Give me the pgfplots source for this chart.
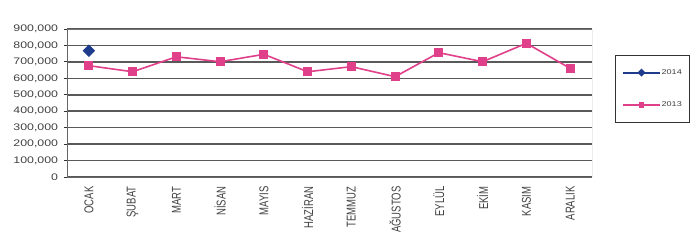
\documentclass[border=0pt]{standalone}
\usepackage{pgfplots}
\pgfplotsset{compat=1.18}
\usepackage{fontspec}
\setmainfont{Liberation Sans}
\definecolor{pinkc}{HTML}{E0408A}
\definecolor{navyc}{HTML}{1F3C8C}
\definecolor{txt}{HTML}{404040}
\begin{document}
\begin{tikzpicture}
\begin{axis}[
  scale only axis, width=525pt, height=148pt,
  at={(0,0)}, anchor=south west,
  xmin=-0.5, xmax=11.5, ymin=0, ymax=900000,
  ytick={0,100000,...,900000},
  scaled y ticks=false,
  /pgf/number format/fixed, /pgf/number format/1000 sep={,}, /pgf/number format/assume math mode=true,
  ticklabel style={font=\fontsize{9.5}{10}\selectfont, text=txt},
  yticklabel style={xscale=1.3, xshift=-1pt},
  ymajorgrids, grid style={draw=black!65, line width=1.5pt},
  xtick={0,...,11},
  xticklabels={OCAK,ŞUBAT,MART,NİSAN,MAYIS,HAZİRAN,TEMMUZ,AĞUSTOS,EYLÜL,EKİM,KASIM,ARALIK},
  xticklabel style={xscale=1.35, rotate=90, anchor=east, xshift=-3pt},
  xtick style={draw=none},
  extra x ticks={-0.5,0.5,1.5,2.5,3.5,4.5,5.5,6.5,7.5,8.5,9.5,10.5,11.5},
  extra x tick labels={},
  extra x tick style={tick style={draw=black!80, line width=0.8pt}, major tick length=4pt, tick align=outside, grid=none},
  ytick style={draw=black!80, line width=0.8pt}, major tick length=3pt, tick align=outside,
  axis line style={draw=black!60, line width=0.8pt},
  axis x line*=bottom, axis y line*=left,
  legend style={at={(rel axis cs:1.0438,0.824)}, anchor=north west, draw=black!80, line width=0.8pt,
    font=\fontsize{7}{8}\selectfont, text=txt, row sep=22pt, inner xsep=7pt, inner ysep=12pt,
    nodes={inner xsep=1pt}},
  legend cell align=left,
  legend image code/.code={\draw[#1, line width=2.2pt] (0pt,0pt) -- (36pt,0pt); \draw[#1, mark size=2pt] plot coordinates {(18pt,0pt)};},
]
\draw[black!55, line width=0.8pt] (rel axis cs:0,1) -- (rel axis cs:1,1) -- (rel axis cs:1,0);
\addplot[navyc, line width=1.6pt, mark=square*, mark size=3.6pt, mark options={fill=navyc, rotate=45}] coordinates {(0,768000)};
\addlegendentry{\scalebox{1.3}[1]{2014}}
\addplot[pinkc, line width=1.6pt, mark=square*, mark size=3.8pt, mark options={fill=pinkc}] coordinates {
(0,677000) (1,640000) (2,731000) (3,701000) (4,746000) (5,640000)
(6,671000) (7,610000) (8,756000) (9,701000) (10,813000) (11,661000)};
\addlegendentry{\scalebox{1.3}[1]{2013}}
\end{axis}
\pgfresetboundingbox
\path[use as bounding box] (-67pt,-63pt) rectangle (631pt,177pt);
\end{tikzpicture}
\end{document}
